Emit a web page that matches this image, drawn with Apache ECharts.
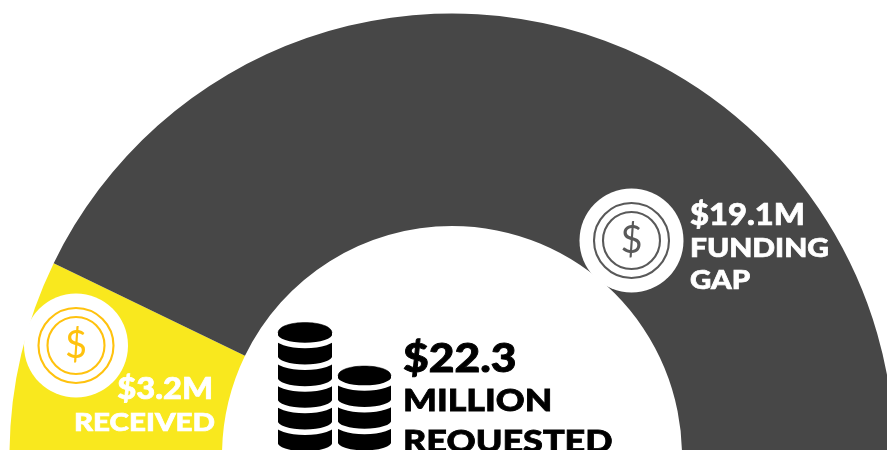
<!DOCTYPE html>
<html><head><meta charset="utf-8">
<style>html,body{margin:0;padding:0;background:#fff;overflow:hidden}#c{width:887px;height:450px}</style>
<script src="https://cdn.jsdelivr.net/npm/echarts@6/dist/echarts.min.js"></script>
</head><body><div id="c"></div>
<script>
const categories = ['Received', 'Funding gap'];
const valuesMillion = [3.2, 19.1];
const colors = ['#F9E81E', '#474747'];
const FONT = 'Lato';
const chart = echarts.init(document.getElementById('c'), null, {renderer:'canvas'});

function txt(x,yMid,t,size,fill,align,sx,thick){
  return {type:'text',silent:true,z:10,x:x,y:yMid,scaleX:sx,originX:0,originY:0,style:{x:0,y:0,text:t,fontFamily:FONT,fontWeight:900,fontSize:size,fill:fill,stroke:fill,lineWidth:thick,align:align||'left',verticalAlign:'middle'}};
}
function coin(cx,cy,col){
  return [
    {type:'circle',silent:true,z:5,shape:{cx:cx,cy:cy,r:52},style:{fill:'#fff'}},
    {type:'circle',silent:true,z:6,shape:{cx:cx,cy:cy,r:37.5},style:{fill:'none',stroke:col,lineWidth:2.1}},
    {type:'circle',silent:true,z:6,shape:{cx:cx,cy:cy,r:28.5},style:{fill:'none',stroke:col,lineWidth:2.1}},
    {type:'text',silent:true,z:7,style:{x:cx,y:cy,text:'$',fontFamily:'Lato',fontWeight:400,fontSize:38,fill:col,align:'center',verticalAlign:'middle'}}
  ];
}
function stack(cx,rx,ry,top,count,step){
  const out=[];
  const x0=cx-rx,x1=cx+rx,k=4/3;
  out.push({type:'bezierCurve',silent:true,z:6,shape:{x1:x0,y1:top,x2:x1,y2:top,cpx1:x0,cpy1:top-k*ry,cpx2:x1,cpy2:top-k*ry},style:{fill:'#000',stroke:'#000',lineWidth:0.5}});
  out.push({type:'rect',silent:true,z:6,shape:{x:x0,y:top,width:2*rx,height:470-top},style:{fill:'#000'}});
  for(let i=0;i<count;i++){
    const y=top+1+i*step, a=x0-3, b=x1+3, h=k*(ry+1);
    out.push({type:'bezierCurve',silent:true,z:7,shape:{x1:a,y1:y,x2:b,y2:y,cpx1:a,cpy1:y+h,cpx2:b,cpy2:y+h},style:{fill:'none',stroke:'#fff',lineWidth:5.5}});
  }
  return out;
}
const option = {
  animation:false,
  backgroundColor:'#fff',
  series:[{
    type:'pie',
    center:[452,456],
    radius:[230,442.5],
    startAngle:180,
    endAngle:0,
    clockwise:true,
    silent:true,
    label:{show:false},
    labelLine:{show:false},
    data:categories.map((n,i)=>({name:n,value:valuesMillion[i],itemStyle:{color:colors[i]}}))
  }],
  graphic:{elements:[
    ...coin(76,345.5,'#FFC20E'),
    ...coin(631.5,240.5,'#595959'),
    ...stack(305,27,10.5,333,6,21.7),
    ...stack(364.5,26.5,10,376,4,21.7),
    txt(213,389,'$3.2M',30,'#fff','right',1.09,0.7),
    txt(215,423,'RECEIVED',25,'#fff','right',1.18,0.7),
    txt(403,359,'$22.3',40,'#000','left',1.11,0.9),
    txt(403,401,'MILLION',31,'#000','left',1.15,0.8),
    txt(403,442,'REQUESTED',31,'#000','left',1.16,0.8),
    txt(690,215,'$19.1M',30,'#fff','left',1.09,0.7),
    txt(690,249,'FUNDING',26,'#fff','left',1.15,0.7),
    txt(690,281,'GAP',26,'#fff','left',1.13,0.7)
  ]}
};
chart.setOption(option);
</script></body></html>
